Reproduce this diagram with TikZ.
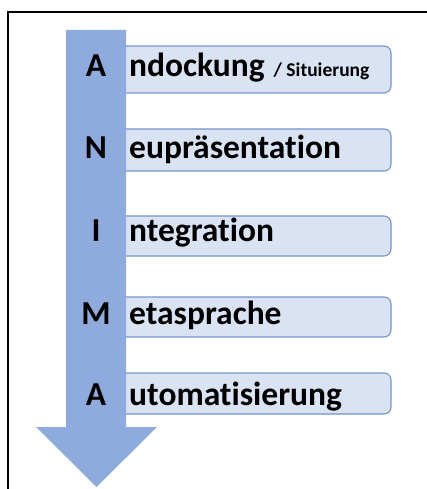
\documentclass[tikz,border=0pt]{standalone}
\usepackage{fontspec}
\setmainfont{Carlito}[Ligatures=NoCommon]
\definecolor{shaft}{HTML}{8FAADC}
\definecolor{boxfill}{HTML}{DAE3F3}
\definecolor{boxline}{HTML}{7595CC}
\tikzset{
  stepbox/.style={draw=boxline, fill=boxfill, rounded corners=7pt, line width=1.1pt, minimum width=285pt, inner sep=0pt},
  word/.style={anchor=base west, inner sep=0pt, font=\fontsize{33.5}{34}\selectfont\bfseries},
  initial/.style={anchor=base, inner sep=0pt, font=\fontsize{33.5}{34}\selectfont\bfseries}
}
\begin{document}
\begin{tikzpicture}[x=1pt,y=-1pt]
\useasboundingbox (0,0) rectangle (427,489);
% frame
\draw[line width=2pt] (8,489) -- (8,12) -- (427,12);
% boxes
\node[stepbox, minimum height=47pt] (b1) at (248.5,69.5) {};
\node[stepbox, minimum height=42pt] (b2) at (248.5,150) {};
\node[stepbox, minimum height=40pt] (b3) at (248.5,236) {};
\node[stepbox, minimum height=40pt] (b4) at (248.5,317) {};
\node[stepbox, minimum height=41pt] (b5) at (248.5,393.5) {};
% arrow
\fill[shaft] (66,30) -- (126,30) -- (126,427) -- (157,427) -- (96.5,487) -- (36,427) -- (66,427) -- cycle;
% texts
\node[word] (t1) at (129,77) {ndockung\hspace{9pt}{\fontsize{19.5}{20}\selectfont / Situierung}};
\node[word] (t2) at (129,158) {eupräsentation};
\node[word] (t3) at (129,241) {ntegration};
\node[word] (t4) at (129,324) {etasprache};
\node[word] (t5) at (129,405) {utomatisierung};
\node[initial] (l1) at (96,77) {A};
\node[initial] (l2) at (96,158) {N};
\node[initial] (l3) at (96,241) {I};
\node[initial] (l4) at (96,324) {M};
\node[initial] (l5) at (96,405) {A};
\end{tikzpicture}
\end{document}
